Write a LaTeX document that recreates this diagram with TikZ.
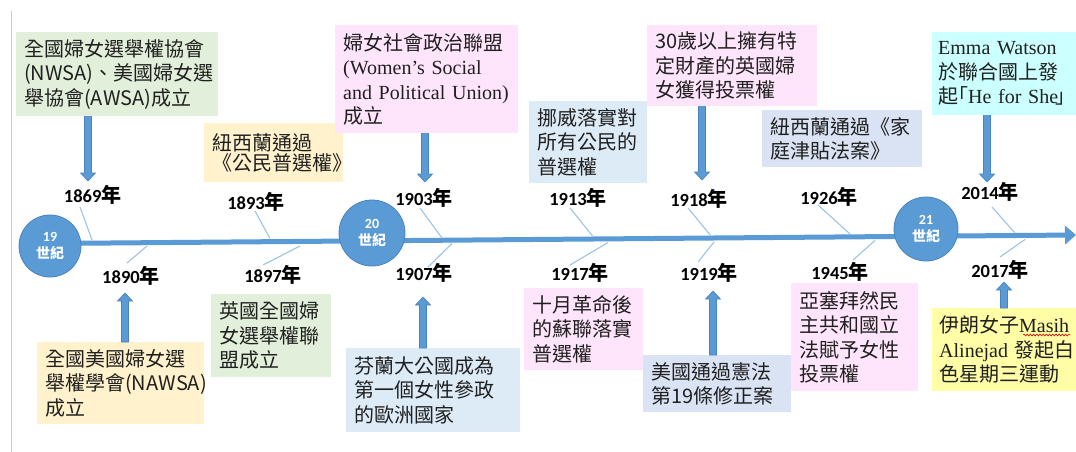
\documentclass[tikz,border=0pt]{standalone}
\usepackage{fontspec}
\setmainfont{Noto Sans CJK TC}
\newfontfamily\timesfont{Liberation Serif}
\newfontfamily\calfont{Carlito}[BoldFont={Carlito Bold}]
\newfontfamily\cjkhalt[RawFeature=+halt]{Noto Sans CJK TC}
\usetikzlibrary{arrows.meta,calc,decorations.pathmorphing}
\pgfdeclarelayer{bg}
\pgfsetlayers{bg,main}
\definecolor{axisblue}{HTML}{5B9BD5}
\definecolor{axisdark}{HTML}{4A83BE}
\definecolor{tickblue}{HTML}{9DC3E6}
\definecolor{boxgreen}{HTML}{E2EFDA}
\definecolor{boxyellow}{HTML}{FFF2CC}
\definecolor{boxpink}{HTML}{FFE5FB}
\definecolor{boxblue}{HTML}{DDEBF7}
\definecolor{boxgrey}{HTML}{DAE3F3}
\definecolor{boxcyan}{HTML}{CCFFFF}
\definecolor{boxlemon}{HTML}{FFFDA6}
\definecolor{framegray}{HTML}{C8C8C8}
\definecolor{txt}{HTML}{202020}
\newcommand\blkarrow[3]{\filldraw[blk] ($(#1)+(-3.5,0)$) -- ($(#2)+(-3.5,#3)$) -- ($(#2)+(-7.5,#3)$) -- (#2) -- ($(#2)+(7.5,#3)$) -- ($(#2)+(3.5,#3)$) -- ($(#1)+(3.5,0)$) -- cycle;}
\newcommand\yrtext[1]{{\calfont\bfseries\fontsize{18.5}{20}\selectfont #1}{\bfseries\fontsize{20}{22}\selectfont 年}}
\begin{document}
\begin{tikzpicture}[x=1pt,y=-1pt,
  evbox/.style={rectangle, anchor=north west, inner xsep=8pt, inner ysep=0pt, align=left, text=txt, font=\fontsize{20}{24.5}\selectfont},
  yr/.style={inner sep=0pt, text=black, font=\bfseries},
  cent/.style={circle, fill=axisblue, draw=axisdark, line width=0.8pt, text=white, align=center, inner sep=0pt, font=\fontsize{14}{17}\selectfont\bfseries},
  ticklink/.style={draw=tickblue, line width=1.1pt},
  axisline/.style={draw=axisblue, line width=5pt, -{Triangle[width=19pt,length=11pt,line width=0pt]}},
  blk/.style={fill=axisblue, draw=axisdark, line width=0.6pt, line join=miter},
  wavy/.style={draw=red!85!black, line width=0.6pt, decorate, decoration={snake, amplitude=0.9pt, segment length=3.2pt}},
  frameline/.style={draw=framegray, line width=1pt}]
\useasboundingbox (0,0) rectangle (1076,452);
\clip (0,0) rectangle (1076,452);
\begin{pgfonlayer}{bg}
\fill[white] (0,0) rectangle (1076,452);
\end{pgfonlayer}
\draw[frameline] (11.5,11) -- (11.5,452);

% century circles
\node[cent, minimum size=62pt] (c19) at (50,246) {{\calfont 19}\\世紀};
\node[cent, minimum size=66pt] (c20) at (372,233) {{\calfont 20}\\世紀};
\node[cent, minimum size=64pt] (c21) at (926,229) {{\calfont 21}\\世紀};

% axis
\coordinate (axstart) at (50,243.5);
\coordinate (axend) at (1076,235);
\begin{pgfonlayer}{bg}
\draw[axisline] (axstart) -- (axend);
\end{pgfonlayer}

% year labels
\node[yr] (y1869) at (92.7,195) {\yrtext{1869}};
\node[yr] (y1893) at (256,202) {\yrtext{1893}};
\node[yr] (y1890) at (131,276) {\yrtext{1890}};
\node[yr] (y1897) at (273,275) {\yrtext{1897}};
\node[yr] (y1903) at (424,198) {\yrtext{1903}};
\node[yr] (y1907) at (424,273) {\yrtext{1907}};
\node[yr] (y1913) at (578,198) {\yrtext{1913}};
\node[yr] (y1917) at (580,273) {\yrtext{1917}};
\node[yr] (y1918) at (699,199) {\yrtext{1918}};
\node[yr] (y1919) at (709,273) {\yrtext{1919}};
\node[yr] (y1926) at (829,197) {\yrtext{1926}};
\node[yr] (y1945) at (840,272) {\yrtext{1945}};
\node[yr] (y2014) at (990,192) {\yrtext{2014}};
\node[yr] (y2017) at (1000,270) {\yrtext{2017}};

% tick lines
\coordinate (t1869a) at (80,207);   \coordinate (t1869b) at (92,240);
\coordinate (t1893a) at (255,211);  \coordinate (t1893b) at (270,238.5);
\coordinate (t1890a) at (147,246);  \coordinate (t1890b) at (127,263);
\coordinate (t1897a) at (300,246);  \coordinate (t1897b) at (263,265);
\coordinate (t1903a) at (420,208);  \coordinate (t1903b) at (442,238);
\coordinate (t1907a) at (452,243.5);\coordinate (t1907b) at (428,267);
\coordinate (t1913a) at (570,208);  \coordinate (t1913b) at (593,236.5);
\coordinate (t1917a) at (608,242.5);\coordinate (t1917b) at (570,265);
\coordinate (t1918a) at (688,208);  \coordinate (t1918b) at (711,236);
\coordinate (t1919a) at (714,242);  \coordinate (t1919b) at (698,262);
\coordinate (t1926a) at (818,205);  \coordinate (t1926b) at (850,234);
\coordinate (t1945a) at (875,240.5);\coordinate (t1945b) at (853,260);
\coordinate (t2014a) at (992,207);  \coordinate (t2014b) at (1015,233);
\coordinate (t2017a) at (1025,239.5);\coordinate (t2017b) at (1000,257);
\foreach \t in {1869,1893,1890,1897,1903,1907,1913,1917,1918,1919,1926,1945,2014,2017}
  \draw[ticklink] (t\t a) -- (t\t b);

% event boxes, top row
\node[evbox, fill=boxgreen, text width=186pt, minimum height=84pt] (g1869) at (16,32)
  {全國婦女選舉權協會\\(NWSA)、美國婦女選\\舉協會(AWSA)成立};
\node[evbox, fill=boxyellow, text width=123pt, minimum height=59pt] (b1893) at (204,123)
  {紐西蘭通過\\\kern-5pt《公民普選權》};
\node[evbox, fill=boxpink, text width=167pt, minimum height=108pt] (p1903) at (335,25)
  {婦女社會政治聯盟\\{\timesfont (Women’s~Social}\\{\timesfont and~Political~Union)}\\成立};
\node[evbox, fill=boxblue, text width=102pt, minimum height=82pt] (b1913) at (529,101)
  {挪威落實對\\所有公民的\\普選權};
\node[evbox, fill=boxpink, text width=154pt, minimum height=81pt] (p1918) at (647,25)
  {30歲以上擁有特\\定財產的英國婦\\女獲得投票權};
\node[evbox, fill=boxgrey, text width=144pt, minimum height=57pt] (b1926) at (762,110)
  {紐西蘭通過《家\\庭津貼法案》};
\node[evbox, fill=boxcyan, inner xsep=6pt, text width=132pt, minimum height=83pt] (c2014) at (932,32)
  {{\timesfont Emma~Watson}\\於聯合國上發\\起{\cjkhalt 「}{\timesfont He~for~She}\kern-3pt{\cjkhalt 」}};

% event boxes, bottom row
\node[evbox, fill=boxyellow, text width=151pt, minimum height=82pt] (b1890) at (37,342)
  {全國美國婦女選\\舉權學會(NAWSA)\\成立};
\node[evbox, fill=boxgreen, text width=104pt, minimum height=83pt] (g1897) at (211,294)
  {英國全國婦\\女選舉權聯\\盟成立};
\node[evbox, fill=boxblue, text width=158pt, minimum height=84pt] (b1907) at (346,348)
  {芬蘭大公國成為\\第一個女性參政\\的歐洲國家};
\node[evbox, fill=boxpink, text width=103pt, minimum height=82pt] (p1917) at (524,288)
  {十月革命後\\的蘇聯落實\\普選權};
\node[evbox, fill=boxgrey, text width=132pt, minimum height=57pt] (b1919) at (643,355)
  {美國通過憲法\\第19條修正案};
\node[evbox, fill=boxpink, text width=111pt, minimum height=108pt] (p1945) at (791,283)
  {亞塞拜然民\\主共和國立\\法賦予女性\\投票權};
\node[evbox, fill=boxlemon, inner xsep=7pt, text width=130pt, minimum height=83pt] (l2017) at (932,308)
  {伊朗女子{\timesfont Masih}\\{\timesfont Alinejad}~發起白\\色星期三運動};
\draw[wavy] (1023,335) -- (1070,335);

% block arrows
\coordinate (ar1869) at (88,181);
\coordinate (ar1903) at (425,182);
\coordinate (ar1918) at (702,180);
\coordinate (ar2014) at (987,182);
\coordinate (ar1890) at (125,293);
\coordinate (ar1907) at (423,297);
\coordinate (ar1919) at (713,291);
\coordinate (ar2017) at (1004,282);
\blkarrow{g1869.south -| ar1869}{ar1869}{-8}
\blkarrow{p1903.south -| ar1903}{ar1903}{-8}
\blkarrow{p1918.south -| ar1918}{ar1918}{-8}
\blkarrow{c2014.south -| ar2014}{ar2014}{-8}
\blkarrow{b1890.north -| ar1890}{ar1890}{8}
\blkarrow{b1907.north -| ar1907}{ar1907}{8}
\blkarrow{b1919.north -| ar1919}{ar1919}{8}
\blkarrow{l2017.north -| ar2017}{ar2017}{8}
\end{tikzpicture}
\end{document}
